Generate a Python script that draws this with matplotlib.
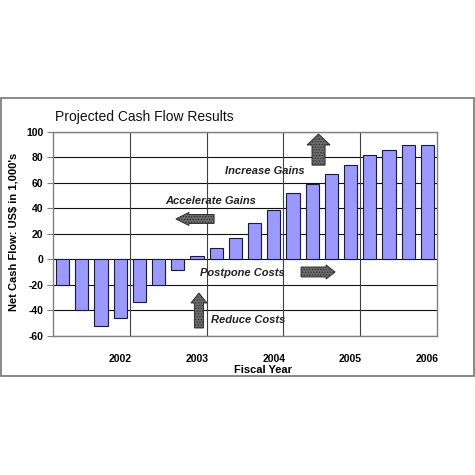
import matplotlib
matplotlib.use('Agg')
import matplotlib.pyplot as plt
from matplotlib.patches import FancyArrow, Rectangle

plt.rcParams['font.family'] = ['Liberation Sans', 'DejaVu Sans']
plt.rcParams['hatch.linewidth'] = 0.6

years = ['2002', '2003', '2004', '2005', '2006']
quarters = ['Q1', 'Q2', 'Q3', 'Q4']
cash_flow = [-20, -40, -52, -46,
             -33, -20, -8, 2.5,
             9, 17, 29, 39,
             52, 59, 67, 74,
             82, 86, 90, 90]
y_ticks = [-60, -40, -20, 0, 20, 40, 60, 80, 100]

fig = plt.figure(figsize=(4.75, 4.75), dpi=100)
W = 475.0

# outer frame of the chart object
fig.patches.append(Rectangle((1 / W, 1 - 376 / W), 473 / W, 278 / W, transform=fig.transFigure,
                             fill=False, edgecolor='#808080', lw=1.3))

ax = fig.add_axes([53 / W, 1 - 336 / W, 384 / W, 204 / W])
x = list(range(len(years) * len(quarters)))
ax.bar(x, cash_flow, width=0.68, color='#9999FF', edgecolor='#1a1a40', lw=0.8, zorder=3)

ax.set_xlim(-0.5, len(x) - 0.5)
ax.set_ylim(-60, 100)
ax.set_yticks(y_ticks)
ax.set_yticklabels([str(v) for v in y_ticks], fontsize=7.5, fontweight='bold')
ax.yaxis.grid(True, color='#111111', lw=0.8)
for i in range(1, len(years)):
    ax.axvline(i * len(quarters) - 0.5, color='#404040', lw=0.8, zorder=1)
ax.set_axisbelow(True)

ax.set_xticks([i * len(quarters) + len(quarters) - 1 for i in range(len(years))])
ax.set_xticklabels(years, fontsize=7.5, fontweight='bold')
ax.tick_params(axis='x', length=0, pad=13)
ax.tick_params(axis='y', length=4, color='#808080', pad=3)
for s in ax.spines.values():
    s.set_color('#808080')
    s.set_linewidth(1.0)

fig.text(55 / W, 1 - 117 / W, 'Projected Cash Flow Results', fontsize=10, va='center', ha='left',
         color='#111111')
fig.text(14 / W, 1 - 232 / W, "Net Cash Flow: US$ in 1,000's", rotation=90, fontsize=8,
         fontweight='bold', va='center', ha='center')
fig.text(263 / W, 1 - 370 / W, 'Fiscal Year', fontsize=8, fontweight='bold', va='center', ha='center')

# annotation labels
notes = [('Increase Gains', 8.46, 69.4), ('Accelerate Gains', 5.33, 45.9),
         ('Postpone Costs', 7.16, -10.6), ('Reduce Costs', 7.73, -47.5)]
for txt, tx, ty in notes:
    ax.text(tx, ty, txt, fontsize=8, fontstyle='italic', fontweight='bold',
            ha='left', va='center', color='#222222', zorder=5)

# block arrows
arrow_style = dict(length_includes_head=True, facecolor='#6c6c6c', edgecolor='#2e2e2e',
                   hatch='......', lw=0.7, zorder=5)
ax.add_patch(FancyArrow(13.33, 74, 0, 24.4, width=0.68, head_width=1.2, head_length=8.6, **arrow_style))
ax.add_patch(FancyArrow(7.89, 31.8, -1.99, 0, width=7, head_width=10.2, head_length=0.68, **arrow_style))
ax.add_patch(FancyArrow(7.1, -53.7, 0, 27.4, width=0.47, head_width=0.83, head_length=7.8, **arrow_style))
ax.add_patch(FancyArrow(12.42, -9.8, 1.77, 0, width=7.8, head_width=11, head_length=0.47, **arrow_style))

fig.savefig('out.png', dpi=100, facecolor='white')
